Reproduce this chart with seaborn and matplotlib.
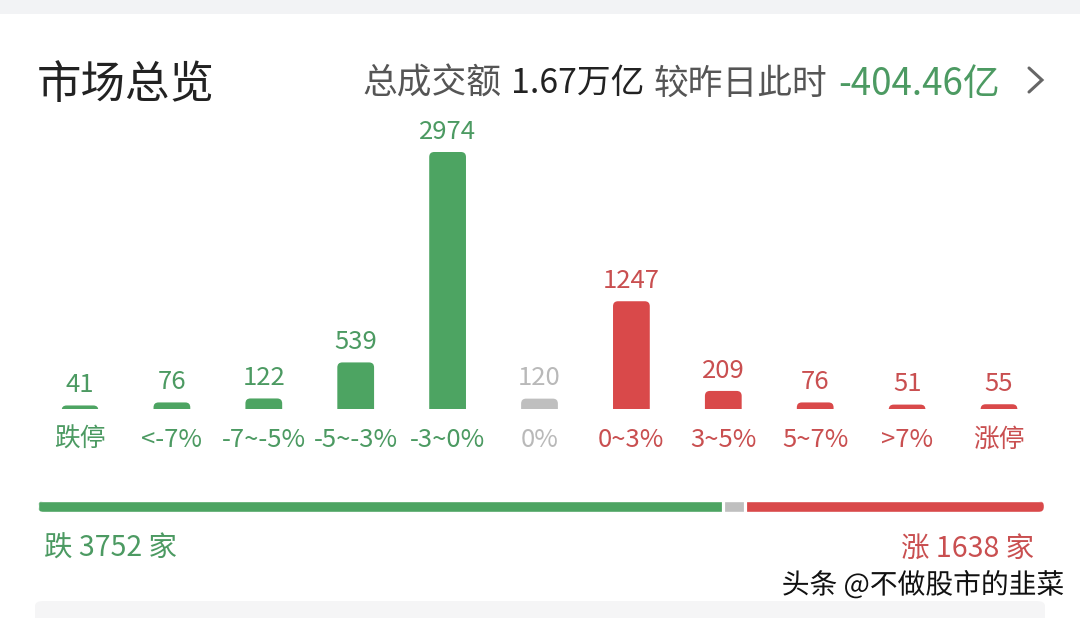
import numpy as np
import pandas as pd
import matplotlib
matplotlib.use("Agg")
import matplotlib.pyplot as plt
import seaborn as sns
from matplotlib.patches import FancyBboxPatch, Rectangle
from matplotlib.lines import Line2D
import matplotlib.patheffects as pe

# ---------------- data ----------------
categories = ["跌停", "<-7%", "-7~-5%", "-5~-3%", "-3~0%", "0%",
              "0~3%", "3~5%", "5~7%", ">7%", "涨停"]
counts = [41, 76, 122, 539, 2974, 120, 1247, 209, 76, 51, 55]
groups = ["down"] * 5 + ["flat"] + ["up"] * 5
down_total = 3752
flat_total = 120
up_total = 1638
turnover_text = "1.67万亿"
change_text = "-404.46亿"

# ---------------- styles ----------------
GREEN = "#4da462"
RED = "#d9494a"
GRAY = "#bfbfbf"
GREEN_T = "#4c9a62"
RED_T = "#c94f50"
GRAY_T = "#b9b9b9"
bar_col = {"down": GREEN, "flat": GRAY, "up": RED}
txt_col = {"down": GREEN_T, "flat": GRAY_T, "up": RED_T}

sns.set_theme(style="white")
plt.rcParams["font.family"] = ["Noto Sans CJK SC", "DejaVu Sans"]

W, H = 1080, 618
fig = plt.figure(figsize=(W / 100, H / 100), dpi=100, facecolor="white")

def fx(x):
    return x / W

def fy(y):
    return 1 - y / H

# background bands
fig.patches.append(Rectangle((0, fy(14)), 1, 14 / H, transform=fig.transFigure,
                             facecolor="#f2f3f5", edgecolor="none", zorder=0))
fig.patches.append(FancyBboxPatch((fx(35), -0.03), fx(1045) - fx(35), fy(601) + 0.03,
                                  boxstyle="round,pad=0,rounding_size=0.008",
                                  transform=fig.transFigure, facecolor="#f5f5f6",
                                  edgecolor="none", zorder=0))

# ---------------- bar axes ----------------
px_per_x = 91.9
left_px = 80 - 0.5 * px_per_x
right_px = 999 + 0.5 * px_per_x
base_px = 409
px_per_val = 257 / 2974
ymax = 3400
ax = fig.add_axes([fx(left_px), (H - base_px) / H, (right_px - left_px) / W,
                   ymax * px_per_val / H])
ax.set_facecolor("none")

df = pd.DataFrame({"cat": categories, "count": counts, "grp": groups})
sns.barplot(data=df, x="cat", y="count", hue="grp",
            palette=bar_col, width=0.40, dodge=False, legend=False, ax=ax,
            saturation=1)
ax.set_xlim(-0.5, len(categories) - 0.5)
ax.set_ylim(0, ymax)
ax.axis("off")

# rounded tops
r_px = 5
r_x = r_px / px_per_x
aspect = (1 / px_per_val) * px_per_x
for p in list(ax.patches):
    x0, w, h = p.get_x(), p.get_width(), p.get_height()
    if w <= 0 or h <= 0:
        p.remove()
        continue
    fc = p.get_facecolor()
    p.set_visible(False)
    lo = -r_px / px_per_val
    rb = FancyBboxPatch((x0, lo), w, h - lo,
                        boxstyle=f"round,pad=0,rounding_size={r_x}",
                        mutation_aspect=aspect, facecolor=fc, edgecolor="none",
                        clip_on=True)
    ax.add_patch(rb)
    rb.set_clip_box(ax.bbox)

for i, (c, v, g) in enumerate(zip(categories, counts, groups)):
    ax.annotate(str(v), xy=(i, v), xytext=(0, 9.5), textcoords="offset points",
                ha="center", va="baseline", fontsize=18.5, color=txt_col[g],
                annotation_clip=False)
    ax.annotate(c, xy=(i, 0), xytext=(0, -27.5), textcoords="offset points",
                ha="center", va="baseline", fontsize=18.5, color=txt_col[g],
                annotation_clip=False)

# ---------------- progress bar axes ----------------
tl, tr, ttop, tbot = 38, 1044, 501, 512
ax2 = fig.add_axes([fx(tl), fy(tbot), (tr - tl) / W, (tbot - ttop) / H])
ax2.set_facecolor("none")
total = down_total + flat_total + up_total
seg_df = pd.DataFrame({"seg": ["down", "flat", "up"],
                       "val": [down_total, flat_total, up_total]})
seg_df["left"] = seg_df["val"].cumsum() - seg_df["val"]
clip = FancyBboxPatch((0, 0), 1, 1, boxstyle=f"round,pad=0,rounding_size={5.5 / (tr - tl)}",
                      mutation_aspect=(tr - tl) / (tbot - ttop),
                      transform=ax2.transAxes, facecolor="none", edgecolor="none")
ax2.add_patch(clip)
bars = ax2.barh([0.5] * 3, seg_df["val"], left=seg_df["left"], height=1.0,
                color=[bar_col[s] for s in seg_df["seg"]])
for b in bars:
    b.set_clip_path(clip)
for edge in seg_df["left"].iloc[1:]:
    ax2.axvline(edge, color="white", lw=2.3)
ax2.set_xlim(0, total)
ax2.set_ylim(0, 1)
ax2.axis("off")

# ---------------- texts ----------------
fig.text(fx(37), fy(80), "市场总览", fontsize=32, color="#222222",
         ha="left", va="center_baseline")
hy = fy(80)
fig.text(fx(362), hy, "总成交额", fontsize=25, color="#555555", ha="left", va="center_baseline")
fig.text(fx(511), hy, turnover_text, fontsize=24.3, color="#222222", ha="left", va="center_baseline")
fig.text(fx(654), hy, "较昨日此时", fontsize=25, color="#555555", ha="left", va="center_baseline")
fig.text(fx(838), hy, change_text, fontsize=26.5, color="#4c9a62", ha="left", va="center_baseline")
fig.lines.append(Line2D([fx(1029), fx(1042), fx(1029)], [fy(68), fy(80), fy(92)],
                        transform=fig.transFigure, color="#666666", lw=2.2,
                        solid_joinstyle="miter"))

fig.text(fx(44), fy(545), f"跌 {down_total} 家", fontsize=20.5, color=GREEN_T,
         ha="left", va="center_baseline")
fig.text(fx(1034), fy(545), f"涨 {up_total} 家", fontsize=20.5, color=RED_T,
         ha="right", va="center_baseline")

fig.text(fx(1064), fy(582), "头条 @不做股市的韭菜", fontsize=20, color="#111111",
         ha="right", va="center_baseline",
         path_effects=[pe.withStroke(linewidth=3, foreground="white")])

fig.savefig("out.png", dpi=100, facecolor="white")
